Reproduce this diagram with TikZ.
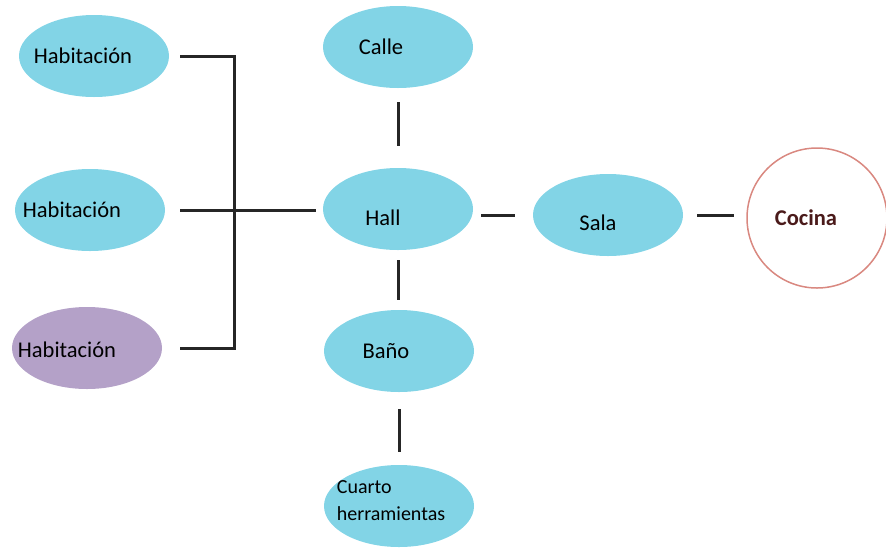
\documentclass[tikz,border=0pt]{standalone}
\usepackage{fontspec}
\setmainfont{Carlito}
\usetikzlibrary{shapes.geometric,positioning}
\definecolor{roomblue}{HTML}{82D4E6}
\definecolor{roompurple}{HTML}{B4A1C8}
\definecolor{kitchenred}{HTML}{D98880}
\definecolor{kitchentext}{HTML}{4A1A1A}
\tikzstyle{room} = [ellipse, minimum width=150pt, minimum height=82pt, inner sep=0pt, fill=roomblue]
\tikzstyle{kitchen} = [circle, minimum size=140pt, inner sep=0pt, draw=kitchenred, line width=1.5pt, fill=white]
\tikzstyle{link} = [line width=3pt, black!85]
\tikzset{every label/.style={font=\fontsize{22.5}{25}\selectfont}}
\begin{document}
\begin{tikzpicture}[x=1pt,y=-1pt]
\useasboundingbox (0,0) rectangle (886,550);
\node (hab1) [room, label={[xshift=-11pt]center:Habitación}] at (94,56) {};
\node (hab2) [room, label={[xshift=-18pt]center:Habitación}] at (90,210) {};
\node (hab3) [room, fill=roompurple, label={[xshift=-20pt,yshift=-2pt]center:Habitación}] at (87,348) {};
\node (calle) [room, label={[xshift=-17pt]center:Calle}] at (398,47) {};
\node (hall) [room, label={[xshift=-15pt,yshift=-9pt]center:Hall}] at (398,209) {};
\node (sala) [room, label={[xshift=-10pt,yshift=-8pt]center:Sala}] at (608,215) {};
\node (cocina) [kitchen, label={[xshift=-11pt,font=\fontsize{22.5}{25}\selectfont\bfseries,text=kitchentext]center:Cocina}] at (817,218) {};
\node (bano) [room, label={[xshift=-13pt]center:Baño}] at (399,351) {};
\node (cuarto) [room, label={[xshift=-8pt,yshift=5pt,align=left,font=\fontsize{20}{27}\selectfont]center:Cuarto\\herramientas}] at (399,506) {};
\coordinate (joint) at (234,207);

\draw [link, shorten <=11pt, shorten >=18pt] (hab1.east) -| (joint) |- (hab3.east);
\draw [link, shorten <=15pt, shorten >=7pt] (hab2.east) -- (hab2.east -| hall.west);
\draw [link, shorten <=14pt, shorten >=22pt] (calle.south) -- (calle.south |- hall.north);
\draw [link, shorten <=8pt, shorten >=18pt] (hall.east |- sala.west) -- (sala.west);
\draw [link, shorten <=14pt, shorten >=12pt] (sala.east) -- (sala.east -| cocina.west);
\draw [link, shorten <=10pt, shorten >=10pt] (hall.south) -- (hall.south |- bano.north);
\draw [link, shorten <=17pt, shorten >=13pt] (bano.south) -- (bano.south |- cuarto.north);
\end{tikzpicture}
\end{document}
